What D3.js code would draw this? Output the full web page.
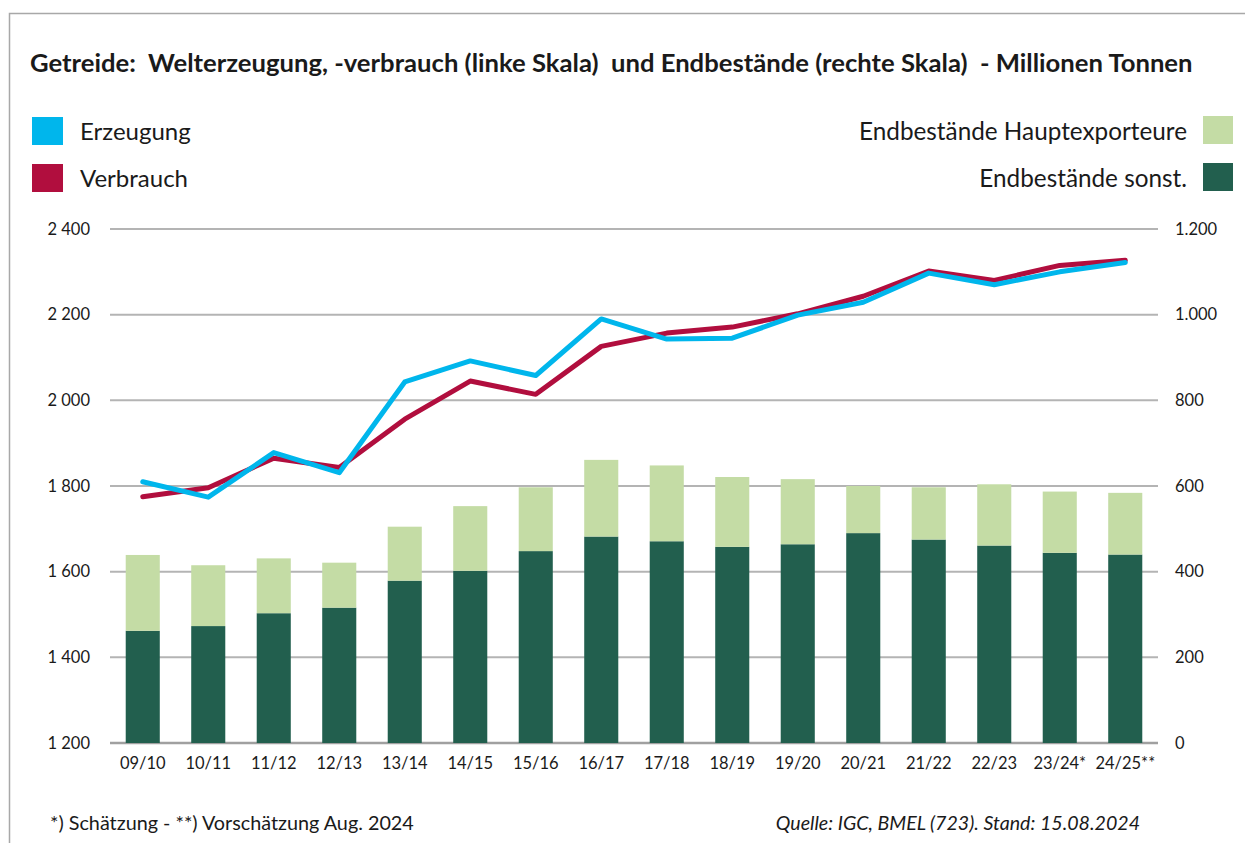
<!DOCTYPE html>
<html>
<head>
<meta charset="utf-8">
<script src="https://cdn.jsdelivr.net/npm/d3@7"></script>
<style>
  body { margin: 0; background: #fff; }
  svg { display: block; font-family: Lato, "Open Sans", sans-serif; }
</style>
</head>
<body>
<div id="chart"></div>
<script>

// Data (Millionen Tonnen)
const categories = ["09/10", "10/11", "11/12", "12/13", "13/14", "14/15", "15/16", "16/17",
                    "17/18", "18/19", "19/20", "20/21", "21/22", "22/23", "23/24*", "24/25**"];
const erzeugung = [1810, 1774, 1878, 1831, 2043, 2092, 2058, 2190, 2143, 2145, 2199, 2229, 2297, 2270, 2300, 2322];
const verbrauch = [1775, 1796, 1865, 1843, 1956, 2045, 2014, 2126, 2157, 2171, 2202, 2243, 2302, 2280, 2315, 2327];
const endSonst = [262, 273, 303, 316, 379, 402, 448, 482, 471, 458, 464, 490, 475, 461, 444, 440];
const endHauptexp = [177, 142, 128, 105, 126, 151, 149, 179, 177, 163, 152, 110, 122, 143, 143, 144];
const leftTicks = [1200, 1400, 1600, 1800, 2000, 2200, 2400];
const rightTicks = [0, 200, 400, 600, 800, 1000, 1200];

// Dimensions
const width = 1245;
const height = 843;
const plot = {left: 110, right: 1158, top: 229, bottom: 743};

const colors = {
  erz: "#00b6ec",
  ver: "#b10e3e",
  haupt: "#c4dca5",
  sonst: "#225f4e",
  grid: "#b4b4b4",
  text: "#1a1a1a"
};

const svg = d3.select("#chart")
  .append("svg")
  .attr("width", width)
  .attr("height", height)
  .attr("viewBox", [0, 0, width, height]);

// frame (only top and left edge visible)
svg.append("path")
  .attr("d", `M9.5,${height} V13.5 H${width}`)
  .attr("fill", "none")
  .attr("stroke", "#a8a8a8")
  .attr("stroke-width", 1.5);

// Scales
const xScale = d3.scaleBand()
  .domain(categories)
  .range([plot.left, plot.right])
  .paddingInner(0.48)
  .paddingOuter(0.24);

const yLeft = d3.scaleLinear()
  .domain([1200, 2400])
  .range([plot.bottom, plot.top]);

const yRight = d3.scaleLinear()
  .domain([0, 1200])
  .range([plot.bottom, plot.top]);

// left scale uses a space, right scale a dot as thousands separator
const fmtLeft = d3.formatLocale({thousands: " ", grouping: [3], decimal: ",", currency: ["", ""]}).format(",");
const fmtRight = d3.formatLocale({thousands: ".", grouping: [3], decimal: ",", currency: ["", ""]}).format(",");

// gridlines
svg.append("g")
  .selectAll("line")
  .data(leftTicks)
  .join("line")
    .attr("x1", plot.left)
    .attr("x2", plot.right)
    .attr("y1", d => yLeft(d))
    .attr("y2", d => yLeft(d))
    .attr("stroke", d => d === 1200 ? "#a0a0a0" : colors.grid)
    .attr("stroke-width", d => d === 1200 ? 2.5 : 2);

// Axes
const axisL = svg.append("g")
  .attr("transform", `translate(${plot.left},0)`)
  .call(d3.axisLeft(yLeft).tickValues(leftTicks).tickFormat(fmtLeft).tickSize(0).tickPadding(20));

const axisR = svg.append("g")
  .attr("transform", `translate(${plot.right},0)`)
  .call(d3.axisRight(yRight).tickValues(rightTicks).tickFormat(fmtRight).tickSize(0).tickPadding(17));

const axisB = svg.append("g")
  .attr("transform", `translate(0,${plot.bottom})`)
  .call(d3.axisBottom(xScale).tickSize(0).tickPadding(14));

[axisL, axisR, axisB].forEach(a => {
  a.select(".domain").remove();
  a.selectAll("text")
    .attr("font-family", "Lato, sans-serif")
    .attr("font-size", 16.5)
    .attr("fill", colors.text)
    .style("white-space", "pre");
});

// Stacked bars (right scale)
const stackData = categories.map((c, i) => ({cat: c, sonst: endSonst[i], haupt: endHauptexp[i]}));
const stacked = d3.stack().keys(["sonst", "haupt"])(stackData);

svg.append("g")
  .selectAll("g")
  .data(stacked)
  .join("g")
    .attr("fill", d => colors[d.key])
  .selectAll("rect")
  .data(d => d)
  .join("rect")
    .attr("x", d => xScale(d.data.cat))
    .attr("y", d => yRight(d[1]))
    .attr("height", d => yRight(d[0]) - yRight(d[1]))
    .attr("width", xScale.bandwidth());

// Lines (left scale)
const line = d3.line()
  .x((d, i) => xScale(categories[i]) + xScale.bandwidth() / 2)
  .y(d => yLeft(d));

svg.append("path")
  .datum(verbrauch)
  .attr("d", line)
  .attr("fill", "none")
  .attr("stroke", colors.ver)
  .attr("stroke-width", 5)
  .attr("stroke-linejoin", "round")
  .attr("stroke-linecap", "round");

svg.append("path")
  .datum(erzeugung)
  .attr("d", line)
  .attr("fill", "none")
  .attr("stroke", colors.erz)
  .attr("stroke-width", 5)
  .attr("stroke-linejoin", "round")
  .attr("stroke-linecap", "round");

// Title, fitted to the original width
const title = svg.append("text")
  .attr("x", 30)
  .attr("y", 72)
  .attr("font-weight", "bold")
  .attr("font-size", 22)
  .attr("fill", colors.text)
  .attr("xml:space", "preserve")
  .text("Getreide:  Welterzeugung, -verbrauch (linke Skala)  und Endbestände (rechte Skala)  - Millionen Tonnen");
const tw = title.node().getComputedTextLength();
title.attr("font-size", 22 * 1163 / tw);

// Legends
const legendLeft = [
  {label: "Erzeugung", color: colors.erz},
  {label: "Verbrauch", color: colors.ver}
];
const legendRight = [
  {label: "Endbestände Hauptexporteure", color: colors.haupt},
  {label: "Endbestände sonst.", color: colors.sonst}
];

legendLeft.forEach((d, i) => {
  svg.append("rect")
    .attr("x", 32).attr("y", 117 + i * 47)
    .attr("width", 31).attr("height", 28)
    .attr("fill", d.color);
  svg.append("text")
    .attr("x", 80).attr("y", 140 + i * 47)
    .attr("font-size", 24)
    .attr("fill", colors.text)
    .text(d.label);
});

legendRight.forEach((d, i) => {
  svg.append("rect")
    .attr("x", 1203).attr("y", 116 + i * 47)
    .attr("width", 30).attr("height", 28)
    .attr("fill", d.color);
  svg.append("text")
    .attr("x", 1187).attr("y", 140 + i * 47)
    .attr("text-anchor", "end")
    .attr("font-size", 24.3)
    .attr("fill", colors.text)
    .text(d.label);
});

// Footer
svg.append("text")
  .attr("x", 50).attr("y", 830)
  .attr("font-size", 19.8)
  .attr("fill", colors.text)
  .text("*) Schätzung - **) Vorschätzung Aug. 2024");

svg.append("text")
  .attr("x", 1140).attr("y", 830)
  .attr("text-anchor", "end")
  .attr("font-size", 19.6)
  .attr("font-style", "italic")
  .attr("fill", colors.text)
  .text("Quelle: IGC, BMEL (723). Stand: 15.08.2024");

</script>
</body>
</html>
